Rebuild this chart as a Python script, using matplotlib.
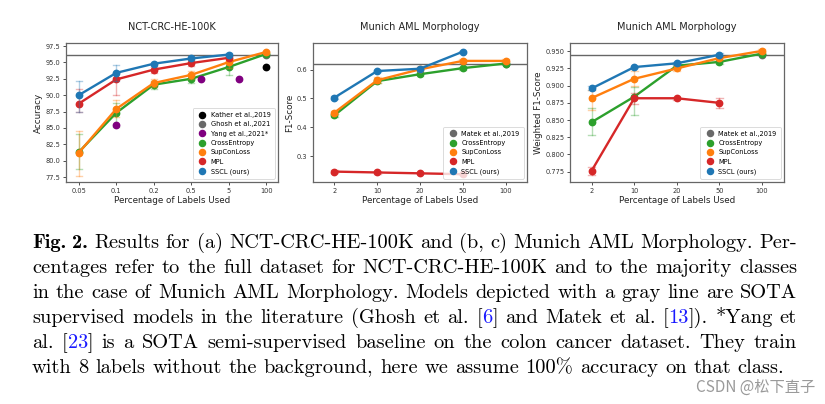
import re
import matplotlib
matplotlib.use("Agg")
import matplotlib.pyplot as plt
from matplotlib.lines import Line2D

# ---------------- data ----------------
# Panel (a) NCT-CRC-HE-100K
a_cats = ["0.05", "0.1", "0.2", "0.5", "5", "100"]
a_ce = [81.3, 87.3, 91.6, 92.5, 94.3, 96.3]
a_ce_lo = [78.8, 85.2, 91.0, 91.9, 93.1, 96.0]
a_ce_hi = [84.0, 88.8, 92.2, 93.2, 95.0, 96.6]
a_sup = [81.2, 87.9, 91.85, 93.1, 95.05, 96.6]
a_sup_lo = [77.7, 86.6, 91.2, 92.4, 94.2, 96.3]
a_sup_hi = [84.5, 89.2, 92.4, 93.7, 95.7, 96.8]
a_mpl = [88.7, 92.4, 93.9, 94.9, 95.7]
a_mpl_lo = [87.4, 90.0, 93.4, 94.5, 95.3]
a_mpl_hi = [91.0, 93.4, 94.3, 95.3, 96.0]
a_sscl = [90.0, 93.4, 94.8, 95.6, 96.2]
a_sscl_lo = [87.4, 92.2, 94.4, 95.3, 95.9]
a_sscl_hi = [92.2, 94.6, 95.1, 95.9, 96.5]
a_kather_pos, a_kather = [5], [94.3]
a_ghosh_pos, a_ghosh = [5], [96.2]
a_yang_pos, a_yang = [1.0, 3.27, 4.28], [85.4, 92.5, 92.4]
a_sota_line = 96.2

# Panel (b) Munich AML Morphology F1
b_cats = ["2", "10", "20", "50", "100"]
b_ce = [0.442, 0.560, 0.584, 0.605, 0.621]
b_ce_lo = [0.437, 0.554, 0.578, 0.600, 0.617]
b_ce_hi = [0.447, 0.566, 0.590, 0.610, 0.625]
b_sup = [0.451, 0.563, 0.601, 0.630, 0.630]
b_sup_lo = [0.445, 0.554, 0.594, 0.624, 0.625]
b_sup_hi = [0.457, 0.573, 0.609, 0.636, 0.635]
b_mpl = [0.247, 0.244, 0.241, 0.238]
b_mpl_lo = [0.243, 0.240, 0.237, 0.234]
b_mpl_hi = [0.251, 0.248, 0.245, 0.242]
b_sscl = [0.503, 0.595, 0.603, 0.662]
b_sscl_lo = [0.498, 0.591, 0.598, 0.658]
b_sscl_hi = [0.508, 0.599, 0.608, 0.666]
b_matek_pos, b_matek = [4], [0.620]
b_sota_line = 0.621

# Panel (c) Munich AML Morphology weighted F1
c_cats = ["2", "10", "20", "50", "100"]
c_ce = [0.847, 0.884, 0.929, 0.9345, 0.9466]
c_ce_lo = [0.828, 0.858, 0.926, 0.931, 0.944]
c_ce_hi = [0.867, 0.898, 0.932, 0.938, 0.949]
c_sup = [0.882, 0.910, 0.925, 0.940, 0.9505]
c_sup_lo = [0.865, 0.899, 0.922, 0.937, 0.948]
c_sup_hi = [0.893, 0.921, 0.929, 0.943, 0.953]
c_mpl = [0.7765, 0.8817, 0.8817, 0.875]
c_mpl_lo = [0.770, 0.873, 0.879, 0.868]
c_mpl_hi = [0.782, 0.889, 0.884, 0.882]
c_sscl = [0.896, 0.927, 0.9325, 0.945]
c_sscl_lo = [0.893, 0.925, 0.930, 0.943]
c_sscl_hi = [0.899, 0.929, 0.935, 0.947]
c_matek_pos, c_matek = [4], [0.945]
c_sota_line = 0.945

caption_lines = [
    "Fig. 2. Results for (a) NCT-CRC-HE-100K and (b, c) Munich AML Morphology. Per-",
    "centages refer to the full dataset for NCT-CRC-HE-100K and to the majority classes",
    "in the case of Munich AML Morphology. Models depicted with a gray line are SOTA",
    "supervised models in the literature (Ghosh et al. [{6}] and Matek et al. [{13}]). *Yang et",
    "al. [{23}] is a SOTA semi-supervised baseline on the colon cancer dataset. They train",
    "with 8 labels without the background, here we assume 100% accuracy on that class.",
]
watermark = "CSDN @松下直子"

# ---------------- style ----------------
C_CE, C_SUP, C_MPL, C_SSCL = "#2ca02c", "#ff7f0e", "#d62728", "#1f77b4"
W, H = 825, 404
fig = plt.figure(figsize=(W / 100, H / 100), dpi=100)
fig.patch.set_facecolor("white")

TICK_FS, LAB_FS, TITLE_FS, LEG_FS = 4.8, 6.3, 7.0, 4.8
MS = 4.6


def ax_rect(l, r, t, b):
    return [l / W, 1 - b / H, (r - l) / W, (b - t) / H]


def series(ax, vals, lo, hi, color, z):
    x = list(range(len(vals)))
    for xi, l, h in zip(x, lo, hi):
        ax.plot([xi, xi], [l, h], color=color, alpha=0.35, lw=1.0, zorder=z)
        for yy in (l, h):
            ax.plot([xi - 0.08, xi + 0.08], [yy, yy], color=color, alpha=0.35, lw=1.0, zorder=z)
    ax.plot(x, vals, color=color, lw=1.7, marker="o", ms=MS, zorder=z + 0.5)


def style_axes(ax, cats, title, ylabel):
    ax.set_xticks(range(len(cats)))
    ax.set_xticklabels(cats)
    ax.tick_params(labelsize=TICK_FS, length=2.5, width=0.6, pad=1.5, colors="#333333")
    for s in ax.spines.values():
        s.set_color("#666666")
        s.set_linewidth(0.9)
    ax.set_title(title, fontsize=TITLE_FS, pad=9, color="#222222")
    ax.set_xlabel("Percentage of Labels Used", fontsize=LAB_FS, labelpad=1.5, color="#222222")
    ax.set_ylabel(ylabel, fontsize=LAB_FS, labelpad=2, color="#222222")


def legend(ax, entries):
    handles = [Line2D([], [], ls="none", marker="o", ms=4.4, color=c, label=l) for l, c in entries]
    leg = ax.legend(handles=handles, loc="lower right", fontsize=LEG_FS, frameon=True,
                    borderpad=0.6, labelspacing=0.5, handletextpad=0.5, handlelength=1.6,
                    borderaxespad=0.5)
    leg.get_frame().set_edgecolor("#cccccc")
    leg.get_frame().set_linewidth(0.6)


# Panel a
ax1 = fig.add_axes(ax_rect(66, 278, 43, 182))
ax1.axhline(a_sota_line, color="#666666", lw=1.0, zorder=1)
series(ax1, a_ce, a_ce_lo, a_ce_hi, C_CE, 2)
series(ax1, a_sup, a_sup_lo, a_sup_hi, C_SUP, 3)
series(ax1, a_mpl, a_mpl_lo, a_mpl_hi, C_MPL, 4)
series(ax1, a_sscl, a_sscl_lo, a_sscl_hi, C_SSCL, 5)
ax1.plot(a_kather_pos, a_kather, "o", color="black", ms=MS, zorder=6)
ax1.plot(a_ghosh_pos, a_ghosh, "o", color="dimgray", ms=MS, zorder=1.5)
ax1.plot(a_yang_pos, a_yang, "o", color="purple", ms=MS, zorder=6)
ax1.set_xlim(-0.34, 5.31)
ax1.set_ylim(76.74, 97.96)
ax1.set_yticks([77.5, 80.0, 82.5, 85.0, 87.5, 90.0, 92.5, 95.0, 97.5])
ax1.set_yticklabels(["77.5", "80.0", "82.5", "85.0", "87.5", "90.0", "92.5", "95.0", "97.5"])
style_axes(ax1, a_cats, "NCT-CRC-HE-100K", "Accuracy")
legend(ax1, [("Kather et al.,2019", "black"), ("Ghosh et al.,2021", "dimgray"),
             ("Yang et al.,2021*", "purple"), ("CrossEntropy", C_CE),
             ("SupConLoss", C_SUP), ("MPL", C_MPL), ("SSCL (ours)", C_SSCL)])

# Panel b
ax2 = fig.add_axes(ax_rect(313, 527, 43, 182))
ax2.axhline(b_sota_line, color="#666666", lw=1.0, zorder=1)
ax2.plot(b_matek_pos, b_matek, "o", color="dimgray", ms=MS, zorder=1.5)
series(ax2, b_ce, b_ce_lo, b_ce_hi, C_CE, 2)
series(ax2, b_sup, b_sup_lo, b_sup_hi, C_SUP, 3)
series(ax2, b_mpl, b_mpl_lo, b_mpl_hi, C_MPL, 4)
series(ax2, b_sscl, b_sscl_lo, b_sscl_hi, C_SSCL, 5)
ax2.set_xlim(-0.5, 4.5)
ax2.set_ylim(0.211, 0.692)
ax2.set_yticks([0.3, 0.4, 0.5, 0.6])
ax2.set_yticklabels(["0.3", "0.4", "0.5", "0.6"])
style_axes(ax2, b_cats, "Munich AML Morphology", "F1-Score")
legend(ax2, [("Matek et al.,2019", "dimgray"), ("CrossEntropy", C_CE),
             ("SupConLoss", C_SUP), ("MPL", C_MPL), ("SSCL (ours)", C_SSCL)])

# Panel c
ax3 = fig.add_axes(ax_rect(570, 784, 43, 182))
ax3.axhline(c_sota_line, color="#666666", lw=1.0, zorder=1)
ax3.plot(c_matek_pos, c_matek, "o", color="dimgray", ms=MS, zorder=1.5)
series(ax3, c_ce, c_ce_lo, c_ce_hi, C_CE, 2)
series(ax3, c_sup, c_sup_lo, c_sup_hi, C_SUP, 3)
series(ax3, c_mpl, c_mpl_lo, c_mpl_hi, C_MPL, 4)
series(ax3, c_sscl, c_sscl_lo, c_sscl_hi, C_SSCL, 5)
ax3.set_xlim(-0.51, 4.52)
ax3.set_ylim(0.760, 0.962)
ax3.set_yticks([0.775, 0.800, 0.825, 0.850, 0.875, 0.900, 0.925, 0.950])
ax3.set_yticklabels(["0.775", "0.800", "0.825", "0.850", "0.875", "0.900", "0.925", "0.950"])
style_axes(ax3, c_cats, "Munich AML Morphology", "Weighted F1-Score")
legend(ax3, [("Matek et al.,2019", "dimgray"), ("CrossEntropy", C_CE),
             ("SupConLoss", C_SUP), ("MPL", C_MPL), ("SSCL (ours)", C_SSCL)])

# ---------------- caption (justified) ----------------
CAP_FS = 14.7
CAP_LEFT, CAP_RIGHT = 32, 797
BASE0, LEAD = 248, 25
renderer = fig.canvas.get_renderer()
REG = ["cmr10", "DejaVu Serif"]
BOLD = ["cmb10", "DejaVu Serif"]


def make(s, fam, color):
    t = fig.text(0, 0, s, fontsize=CAP_FS, family=fam, color=color,
                 va="baseline", ha="left", transform=None)
    return t


def width(t):
    return t.get_window_extent(renderer).width


probe1 = make("a a", REG, "k"); probe2 = make("aa", REG, "k")
space_w = width(probe1) - width(probe2)
probe1.remove(); probe2.remove()

for li, line in enumerate(caption_lines):
    words = line.split(" ")
    built = []
    for wi, word in enumerate(words):
        fam = BOLD if (li == 0 and wi < 2) else REG
        pieces = []
        for p in re.split(r"(\{[^}]*\})", word):
            if not p:
                continue
            if p.startswith("{"):
                t = make(p[1:-1], fam, "#1a1aff")
            else:
                t = make(p, fam, "black")
            pieces.append((t, width(t)))
        built.append(pieces)
    wws = [sum(w for _, w in pcs) for pcs in built]
    last = li == len(caption_lines) - 1
    gap = space_w if last else (CAP_RIGHT - CAP_LEFT - sum(wws)) / (len(built) - 1)
    x = CAP_LEFT
    y = H - (BASE0 + li * LEAD)
    for pcs, ww in zip(built, wws):
        xx = x
        for t, w in pcs:
            t.set_position((xx, y))
            xx += w
        x += ww + gap

fig.text(815 / W, 1 - 392 / H, watermark, fontsize=11, color="#9a9a9a",
         family=["Noto Sans CJK SC", "DejaVu Sans"], ha="right", va="baseline")

fig.savefig("out.png", dpi=100)
